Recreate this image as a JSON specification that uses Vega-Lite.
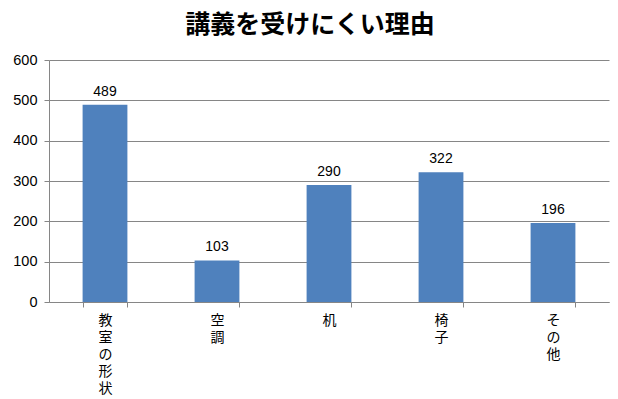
{
  "$schema": "https://vega.github.io/schema/vega-lite/v6.json",
  "autosize": "none",
  "width": 560,
  "height": 242,
  "padding": {"left": 49, "top": 60, "right": 9, "bottom": 97},
  "background": "white",
  "title": {
    "text": "講義を受けにくい理由",
    "font": "Noto Sans CJK JP",
    "fontSize": 25,
    "fontWeight": "bold",
    "color": "#000000",
    "anchor": "middle",
    "dx": -19,
    "offset": 14
  },
  "data": {
    "values": [
      {"reason": "教室の形状", "count": 489},
      {"reason": "空調", "count": 103},
      {"reason": "机", "count": 290},
      {"reason": "椅子", "count": 322},
      {"reason": "その他", "count": 196}
    ]
  },
  "config": {
    "view": {"stroke": null},
    "axis": {"grid": false}
  },
  "encoding": {
    "x": {
      "field": "reason",
      "type": "nominal",
      "sort": null,
      "scale": {"paddingInner": 0.6, "paddingOuter": 0.3},
      "axis": {
        "title": null,
        "labelAngle": 0,
        "labelExpr": "split(datum.label, '')",
        "labelFont": "Noto Sans CJK JP",
        "labelFontSize": 14,
        "labelLineHeight": 17,
        "labelColor": "#000000",
        "labelBaseline": "top",
        "labelPadding": 6,
        "domainColor": "#868686",
        "tickColor": "#868686",
        "tickSize": 5,
        "tickBand": "extent",
        "labelAlign": "center"
      }
    },
    "y": {
      "field": "count",
      "type": "quantitative",
      "scale": {"domain": [0, 600]},
      "axis": {
        "title": null,
        "values": [0, 100, 200, 300, 400, 500, 600],
        "grid": true,
        "gridColor": "#868686",
        "gridWidth": 1,
        "domainColor": "#868686",
        "tickColor": "#868686",
        "tickSize": 5,
        "labelPadding": 7,
        "labelFont": "Liberation Sans",
        "labelFontSize": 14.5,
        "labelColor": "#000000"
      }
    }
  },
  "layer": [
    {"mark": {"type": "bar", "color": "#4F81BD"}},
    {
      "mark": {"type": "text", "dy": -13, "font": "Liberation Sans", "fontSize": 14, "color": "#000000"},
      "encoding": {"text": {"field": "count", "type": "quantitative"}}
    }
  ]
}
